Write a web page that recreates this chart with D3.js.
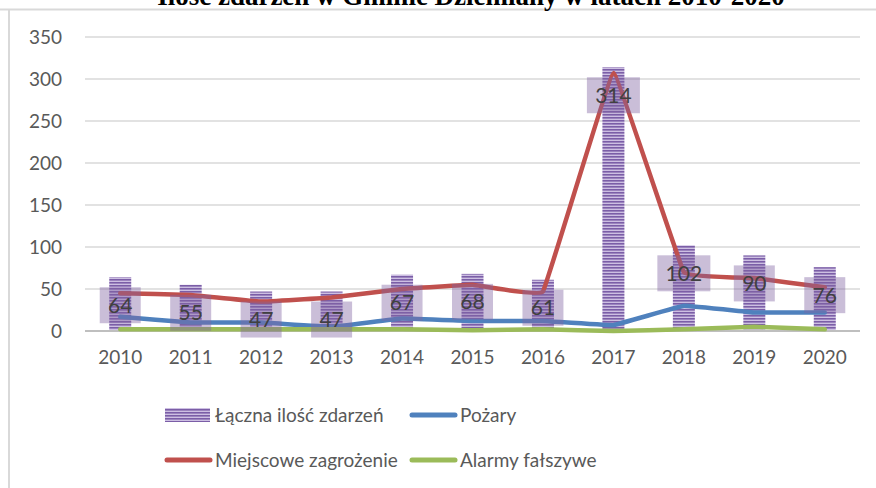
<!DOCTYPE html>
<html>
<head>
<meta charset="utf-8">
<script src="https://cdn.jsdelivr.net/npm/d3@7"></script>
<style>
  body { margin: 0; background: #fff; }
  svg { display: block; }
</style>
</head>
<body>
<div id="main"></div>
<script>
'use strict';

var width = 876;
var height = 488;

// data
var years = ['2010', '2011', '2012', '2013', '2014', '2015', '2016', '2017', '2018', '2019', '2020'];
var totals = [64, 55, 47, 47, 67, 68, 61, 314, 102, 90, 76];          // Łączna ilość zdarzeń
var fires = [17, 10, 10, 5, 15, 12, 12, 7, 30, 22, 22];                // Pożary
var localThreats = [45, 43, 35, 40, 50, 55, 47, 307, 70, 63, 52];      // Miejscowe zagrożenie
var falseAlarms = [2, 2, 2, 2, 2, 1, 2, 0, 2, 5, 2];                   // Alarmy fałszywe
var yTicks = [0, 50, 100, 150, 200, 250, 300, 350];

var title = 'Ilość zdarzeń w Gminie Dziemiany w latach 2010-2020';
var lineSeries = [
  { name: 'Pożary', values: fires, color: '#4f81bd' },
  { name: 'Miejscowe zagrożenie', values: localThreats, color: '#c0504d' },
  { name: 'Alarmy fałszywe', values: falseAlarms, color: '#9bbb59' }
];

var font = 'Lato, "Open Sans", sans-serif';
var textColor = '#595959';

var svg = d3.select('#main').append('svg')
  .attr('width', width).attr('height', height);

// hatched fill of the bars
var defs = svg.append('defs');
var pat = defs.append('pattern')
  .attr('id', 'hatch')
  .attr('patternUnits', 'userSpaceOnUse')
  .attr('width', 6).attr('height', 3);
pat.append('rect').attr('width', 6).attr('height', 3).attr('fill', '#cdbfe2');
pat.append('rect').attr('y', 0).attr('width', 6).attr('height', 1.6).attr('fill', '#7b5ea7');

// chart frame (top + left edges visible)
svg.append('line').attr('x1', 0).attr('x2', width).attr('y1', 9.5).attr('y2', 9.5)
  .attr('stroke', '#d9d9d9').attr('stroke-width', 2);
svg.append('line').attr('x1', 9).attr('x2', 9).attr('y1', 9).attr('y2', height)
  .attr('stroke', '#d9d9d9').attr('stroke-width', 2);

// title, cut off by the top edge as in the source
svg.append('text')
  .attr('x', 471).attr('y', 5)
  .attr('text-anchor', 'middle')
  .attr('font-family', '"Liberation Serif", "Times New Roman", serif')
  .attr('font-weight', 'bold')
  .attr('font-size', 27)
  .attr('fill', '#000')
  .text(title);

var plot = { left: 85, right: 860, top: 37, bottom: 331 };

var x = d3.scaleBand().domain(years).range([plot.left, plot.right]);
var y = d3.scaleLinear().domain([0, 350]).range([plot.bottom, plot.top]);
var cx = function(d, i) { return x(years[i]) + x.bandwidth() / 2; };

// gridlines
svg.append('g').selectAll('line')
  .data(yTicks.slice(1)).enter()
  .append('line')
  .attr('x1', plot.left).attr('x2', plot.right)
  .attr('y1', function(d) { return y(d); }).attr('y2', function(d) { return y(d); })
  .attr('stroke', '#d9d9d9').attr('stroke-width', 1.5);

// y axis labels
var yAxis = d3.axisLeft(y).tickValues(yTicks).tickSize(0).tickPadding(0);
var gy = svg.append('g').attr('transform', 'translate(62,0)').call(yAxis);
gy.select('.domain').remove();
gy.selectAll('text')
  .attr('font-family', font).attr('font-size', 19).attr('fill', textColor);

// bars
var barW = 22;
svg.append('g').selectAll('rect')
  .data(totals).enter()
  .append('rect')
  .attr('x', function(d, i) { return cx(d, i) - barW / 2; })
  .attr('y', function(d) { return y(d); })
  .attr('width', barW)
  .attr('height', function(d) { return y(0) - y(d); })
  .attr('fill', 'url(#hatch)');

// x axis line + labels
svg.append('line')
  .attr('x1', plot.left).attr('x2', plot.right)
  .attr('y1', y(0)).attr('y2', y(0))
  .attr('stroke', '#bfbfbf').attr('stroke-width', 2);
var xAxis = d3.axisBottom(x).tickSize(0).tickPadding(0);
var gx = svg.append('g').attr('transform', 'translate(0,' + (y(0) + 19) + ')').call(xAxis);
gx.select('.domain').remove();
gx.selectAll('text')
  .attr('font-family', font).attr('font-size', 19).attr('fill', textColor);

// lines (slightly smoothed, like the spreadsheet)
var line = d3.line()
  .x(function(d, i) { return cx(d, i); })
  .y(function(d) { return y(d); })
  .curve(d3.curveCardinal.tension(0.85));

svg.append('g').selectAll('path')
  .data(lineSeries).enter()
  .append('path')
  .attr('d', function(s) { return line(s.values); })
  .attr('fill', 'none')
  .attr('stroke', function(s) { return s.color; })
  .attr('stroke-width', 4.5)
  .attr('stroke-linecap', 'round')
  .attr('stroke-linejoin', 'round');

// data labels (inside end of bar)
var labels = svg.append('g').selectAll('g')
  .data(totals).enter()
  .append('g')
  .attr('transform', function(d, i) { return 'translate(' + cx(d, i) + ',' + (y(d) + 28) + ')'; });

labels.append('rect')
  .attr('x', function(d) { return -(String(d).length * 12 + 17) / 2; })
  .attr('y', -18)
  .attr('width', function(d) { return String(d).length * 12 + 17; })
  .attr('height', 36)
  .attr('fill', '#8064a2')
  .attr('fill-opacity', 0.42);

labels.append('text')
  .attr('text-anchor', 'middle')
  .attr('dy', '0.35em')
  .attr('font-family', font).attr('font-size', 21)
  .attr('fill', '#404040')
  .text(function(d) { return d; });

// legend
var legendItems = [
  { name: 'Łączna ilość zdarzeń', type: 'bar', x: 165, y: 415 },
  { name: 'Pożary', type: 'line', color: lineSeries[0].color, x: 410, y: 415 },
  { name: 'Miejscowe zagrożenie', type: 'line', color: lineSeries[1].color, x: 165, y: 460 },
  { name: 'Alarmy fałszywe', type: 'line', color: lineSeries[2].color, x: 410, y: 460 }
];

var leg = svg.append('g').selectAll('g')
  .data(legendItems).enter()
  .append('g')
  .attr('transform', function(d) { return 'translate(' + d.x + ',' + d.y + ')'; });

leg.filter(function(d) { return d.type === 'bar'; })
  .append('rect')
  .attr('x', 0).attr('y', -7).attr('width', 45).attr('height', 14)
  .attr('fill', 'url(#hatch)');

leg.filter(function(d) { return d.type === 'line'; })
  .append('line')
  .attr('x1', 2).attr('x2', 45).attr('y1', 0).attr('y2', 0)
  .attr('stroke', function(d) { return d.color; })
  .attr('stroke-width', 5)
  .attr('stroke-linecap', 'round');

leg.append('text')
  .attr('x', 50).attr('dy', '0.35em')
  .attr('font-family', font).attr('font-size', 19)
  .attr('fill', textColor)
  .text(function(d) { return d.name; });
</script>
</body>
</html>
